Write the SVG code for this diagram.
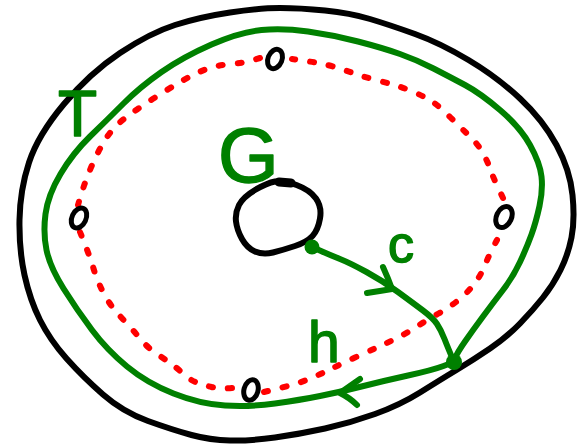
<svg xmlns="http://www.w3.org/2000/svg" width="585" height="448" viewBox="0 0 585 448">
<style>
.blk{fill:none;stroke:#000;stroke-width:6;stroke-linecap:round;stroke-linejoin:round}
.grn{fill:none;stroke:#008000;stroke-width:6;stroke-linecap:round;stroke-linejoin:round}
.red{fill:none;stroke:#ff0000;stroke-width:6;stroke-linecap:round;stroke-dasharray:4 15}
.pt{fill:none;stroke:#000;stroke-width:5}
.dot{fill:#008000}
.lbl{fill:#008000;stroke:#008000;stroke-width:1.5;stroke-linejoin:round;font-family:"Liberation Sans",Arial,sans-serif}
</style>
<rect width="585" height="448" fill="#fff"/>
<g id="outer">
<path class="blk" d="M175,25 Q200,17 230,12.5 Q260,8 280,8 Q300,8 325,10.5 Q350,13 370,19 Q390,25 415,34 Q440,43 468.5,60 Q497,77 520,98.5 Q543,120 556.5,145 Q570,170 572.5,195 Q575,220 571.5,237.5 Q568,255 560.5,270 Q553,285 543,297.5 Q533,310 520,323.5 Q507,337 490,348.5 Q473,360 456.5,370 Q440,380 420,392.5 Q400,405 375,414 Q350,423 325,428.5 Q300,434 275,437.5 Q250,441 230,440.5 Q210,440 191.5,435 Q173,430 148,421 Q123,412 103,394.5 Q83,377 66.5,358.5 Q50,340 40,320 Q30,300 24.5,275 Q19,250 19.5,220 Q20,190 29,162.5 Q38,135 64,104 Q90,73 120,53 Q150,33 175,25 Z"/>
</g>
<g id="hole">
<path class="blk" d="M296.5,185 Q310,190 316,198.5 Q322,207 320,218.5 Q318,230 312.5,236 Q307,242 295,246 Q283,250 273,252.5 Q263,255 255,251.5 Q247,248 242,239 Q237,230 236,221.5 Q235,213 239,205 Q243,197 255,190 Q267,183 275,181.5 Q283,180 296.5,185 Z"/>
<path class="blk" style="stroke-width:9" d="M279,182 L291,183"/>
</g>
<g id="dotted-loop">
<path class="red" d="M260,58 L251.5,60.5 Q243,63 231.5,64 Q220,65 211.5,67.5 Q203,70 195,74 Q187,78 178.5,83 Q170,88 155,97.5 Q140,107 126.5,117 Q113,127 105,140 Q97,153 90,170 Q83,187 78,205"/>
<path class="red" d="M80,232 L85,244.5 Q90,257 93.5,268.5 Q97,280 102,290 Q107,300 112,306.5 Q117,313 125,321.5 Q133,330 140,338.5 Q147,347 155,352.5 Q163,358 170,363 Q177,368 183.5,374 Q190,380 196.5,382.5 Q203,385 211.5,387 Q220,389 232,388"/>
<path class="red" d="M264,392 L282,387.5 Q300,383 311.5,378 Q323,373 333,368 Q343,363 355,357.5 Q367,352 377,347.5 Q387,343 397,338 Q407,333 417,326.5 Q427,320 438.5,313.5 Q450,307 458.5,300 Q467,293 473.5,285 Q480,277 485,265 Q490,253 497,240"/>
<path class="red" d="M503,198 L498,187.5 Q493,177 490,168.5 Q487,160 482,151.5 Q477,143 468.5,135 Q460,127 450,117 Q440,107 433.5,102.5 Q427,98 417,93.5 Q407,89 397.5,86 Q388,83 378,80.5 Q368,78 359,75 Q350,72 336.5,67.5 Q323,63 292,59"/>
</g>
<g id="points">
<ellipse class="pt" cx="275" cy="59" rx="7" ry="10" transform="rotate(22 275 59)"/>
<ellipse class="pt" cx="79" cy="218" rx="7" ry="10.5" transform="rotate(25 79 218)"/>
<ellipse class="pt" cx="504" cy="217" rx="7.5" ry="11" transform="rotate(25 504 217)"/>
<ellipse class="pt" cx="251" cy="390" rx="7" ry="10.5" transform="rotate(15 251 390)"/>
</g>
<g id="connectors">
<path id="h" class="grn" d="M454,362 L443.5,366 Q433,370 408,375.5 Q383,381 361.5,386.5 Q340,392 320,396 Q300,400 275,403.5 Q250,407 225,405.5 Q200,404 173.5,393.5 Q147,383 127,366.5 Q107,350 92,330 Q77,310 63.5,288.5 Q50,267 46.5,250 Q43,233 45.5,214 Q48,195 60.5,174 Q73,153 90,136.5 Q107,120 123.5,103.5 Q140,87 161.5,72 Q183,57 211.5,44.5 Q240,32 261.5,30 Q283,28 308,31.5 Q333,35 358,41.5 Q383,48 400,54 Q417,60 433.5,68.5 Q450,77 465,85 Q480,93 500,110 Q520,127 530,145 Q540,163 541.5,176.5 Q543,190 539.5,206 Q536,222 531.5,234.5 Q527,247 520,262 Q513,277 503,290 Q493,303 483,316.5 Q473,330 465,341.5 Q457,353 455.5,357.5 L454,362"/>
<path class="grn" d="M360,379 Q350,386 340,393 Q350,398 357,405"/>
<path id="c" class="grn" d="M312,247 L321,251 Q330,255 340,259 Q350,263 366.5,272 Q383,281 398,292 Q413,303 423,310.5 Q433,318 437,324 Q441,330 444.5,339 Q448,348 454,362"/>
<path class="grn" d="M383,267 Q388,278 392,289 M367,293 Q380,291 392,289"/>
<circle class="dot" cx="312" cy="247" r="7.5"/>
<circle class="dot" cx="454" cy="362" r="8"/>
</g>
<g id="labels">
<text class="lbl" x="58" y="136" font-size="64">T</text>
<text class="lbl" x="218" y="182" font-size="78">G</text>
<text class="lbl" x="388" y="262" font-size="52">c</text>
<text class="lbl" x="308" y="362" font-size="57">h</text>
</g>
</svg>
